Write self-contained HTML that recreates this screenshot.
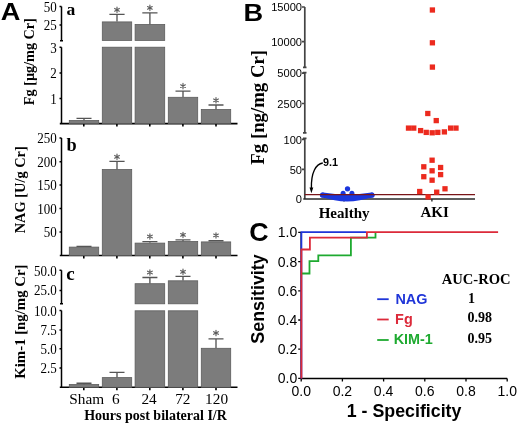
<!DOCTYPE html>
<html><head><meta charset="utf-8"><style>
html,body{margin:0;padding:0;background:#fff;width:520px;height:426px;overflow:hidden}
svg{display:block;will-change:transform}
</style></head><body>
<svg width="520" height="426" viewBox="0 0 520 426">
<rect width="520" height="426" fill="#fff"/>
<text transform="translate(0.8,19.6) scale(1.12,1)" font-family='"Liberation Sans", sans-serif' font-size="24.3" font-weight="bold" text-anchor="start" fill="#000">A</text>
<path d="M61.5 6.6V40.8M61.5 47.3V123.6M59.5 6.6H61.5M59.5 25H61.5M59.5 47.3H61.5M59.5 72.9H61.5M59.5 98.4H61.5M60 40.8H63" stroke="#000" stroke-width="1.5" fill="none"/>
<path d="M59.8 123.6H237.5M83.8 123.6V126.5M116.9 123.6V126.5M149.8 123.6V126.5M182.9 123.6V126.5M216 123.6V126.5" stroke="#000" stroke-width="1.6" fill="none"/>
<text transform="translate(56.8,7.199999999999999) scale(0.93,1)" font-family='"Liberation Serif", serif' font-size="14" text-anchor="end" dominant-baseline="central">50</text>
<text transform="translate(56.8,25.6) scale(0.93,1)" font-family='"Liberation Serif", serif' font-size="14" text-anchor="end" dominant-baseline="central">25</text>
<text transform="translate(56.8,47.9) scale(0.93,1)" font-family='"Liberation Serif", serif' font-size="14" text-anchor="end" dominant-baseline="central">3</text>
<text transform="translate(56.8,73.5) scale(0.93,1)" font-family='"Liberation Serif", serif' font-size="14" text-anchor="end" dominant-baseline="central">2</text>
<text transform="translate(56.8,99.0) scale(0.93,1)" font-family='"Liberation Serif", serif' font-size="14" text-anchor="end" dominant-baseline="central">1</text>
<text x="66.6" y="14.5" font-family='"Liberation Serif", serif' font-size="17.6" font-weight="bold" text-anchor="start" fill="#000" >a</text>
<text transform="translate(33.6,61.65) rotate(-90)" font-family='"Liberation Serif", serif' font-size="14.2" font-weight="bold" text-anchor="middle">Fg [µg/mg Cr]</text>
<rect x="69.30" y="120.50" width="29.40" height="3.10" fill="#7c7c7c" stroke="#5c5c5c" stroke-width="0.8"/>
<path d="M84 120.2V118.3M76.5 118.3H91.5" stroke="#555" stroke-width="1.35" fill="none"/>
<rect x="102.30" y="21.90" width="29.40" height="18.50" fill="#7c7c7c" stroke="#5c5c5c" stroke-width="0.8"/>
<rect x="102.30" y="47.20" width="29.40" height="76.40" fill="#7c7c7c" stroke="#5c5c5c" stroke-width="0.8"/>
<rect x="135.10" y="24.50" width="29.60" height="15.90" fill="#7c7c7c" stroke="#5c5c5c" stroke-width="0.8"/>
<rect x="135.10" y="47.20" width="29.60" height="76.40" fill="#7c7c7c" stroke="#5c5c5c" stroke-width="0.8"/>
<path d="M117 21.6V14.4M109.4 14.4H124.6" stroke="#555" stroke-width="1.35" fill="none"/>
<path d="M117 7.1000000000000005V12.5M114.66 8.45L119.34 11.15M114.66 11.15L119.34 8.45" stroke="#5e5e5e" stroke-width="1.15" stroke-linecap="round" fill="none"/>
<path d="M149.9 24.2V12.9M142.3 12.9H157.5" stroke="#555" stroke-width="1.35" fill="none"/>
<path d="M149.9 5.1499999999999995V10.55M147.56 6.50L152.24 9.20M147.56 9.20L152.24 6.50" stroke="#5e5e5e" stroke-width="1.15" stroke-linecap="round" fill="none"/>
<rect x="168.30" y="97.30" width="29.40" height="26.30" fill="#7c7c7c" stroke="#5c5c5c" stroke-width="0.8"/>
<path d="M183 97V91.1M175.5 91.1H190.5" stroke="#555" stroke-width="1.35" fill="none"/>
<path d="M183 83.39999999999999V88.8M180.66 84.75L185.34 87.45M180.66 87.45L185.34 84.75" stroke="#5e5e5e" stroke-width="1.15" stroke-linecap="round" fill="none"/>
<rect x="201.30" y="109.50" width="29.40" height="14.10" fill="#7c7c7c" stroke="#5c5c5c" stroke-width="0.8"/>
<path d="M216 109.2V105M208.5 105H223.5" stroke="#555" stroke-width="1.35" fill="none"/>
<path d="M216 97.6V103.0M213.66 98.95L218.34 101.65M213.66 101.65L218.34 98.95" stroke="#5e5e5e" stroke-width="1.15" stroke-linecap="round" fill="none"/>
<path d="M61.5 138V255.5M59.5 138H61.5M59.5 161.8H61.5M59.5 184.9H61.5M59.5 208.6H61.5M59.5 232.1H61.5" stroke="#000" stroke-width="1.5" fill="none"/>
<path d="M59.8 255.5H237.5M83.8 255.5V258.5M116.9 255.5V258.5M149.8 255.5V258.5M182.9 255.5V258.5M216 255.5V258.5" stroke="#000" stroke-width="1.6" fill="none"/>
<text transform="translate(56.8,138.6) scale(0.93,1)" font-family='"Liberation Serif", serif' font-size="14" text-anchor="end" dominant-baseline="central">250</text>
<text transform="translate(56.8,162.4) scale(0.93,1)" font-family='"Liberation Serif", serif' font-size="14" text-anchor="end" dominant-baseline="central">200</text>
<text transform="translate(56.8,185.5) scale(0.93,1)" font-family='"Liberation Serif", serif' font-size="14" text-anchor="end" dominant-baseline="central">150</text>
<text transform="translate(56.8,209.2) scale(0.93,1)" font-family='"Liberation Serif", serif' font-size="14" text-anchor="end" dominant-baseline="central">100</text>
<text transform="translate(56.8,232.7) scale(0.93,1)" font-family='"Liberation Serif", serif' font-size="14" text-anchor="end" dominant-baseline="central">50</text>
<text x="66.5" y="151.4" font-family='"Liberation Serif", serif' font-size="18.3" font-weight="bold" text-anchor="start" fill="#000" >b</text>
<text transform="translate(25.3,189.8) rotate(-90)" font-family='"Liberation Serif", serif' font-size="14.4" font-weight="bold" text-anchor="middle">NAG [U/g Cr]</text>
<rect x="69.30" y="247.10" width="29.40" height="8.40" fill="#7c7c7c" stroke="#5c5c5c" stroke-width="0.8"/>
<path d="M84 246.8V246.3M76.5 246.3H91.5" stroke="#555" stroke-width="1.35" fill="none"/>
<rect x="102.30" y="169.50" width="29.40" height="86.00" fill="#7c7c7c" stroke="#5c5c5c" stroke-width="0.8"/>
<path d="M117 169.2V161.3M109.4 161.3H124.6" stroke="#555" stroke-width="1.35" fill="none"/>
<path d="M117 154.10000000000002V159.5M114.66 155.45L119.34 158.15M114.66 158.15L119.34 155.45" stroke="#5e5e5e" stroke-width="1.15" stroke-linecap="round" fill="none"/>
<rect x="135.10" y="243.10" width="29.60" height="12.40" fill="#7c7c7c" stroke="#5c5c5c" stroke-width="0.8"/>
<path d="M149.9 242.8V241.6M142.4 241.6H157.4" stroke="#555" stroke-width="1.35" fill="none"/>
<path d="M149.9 233.8V239.2M147.56 235.15L152.24 237.85M147.56 237.85L152.24 235.15" stroke="#5e5e5e" stroke-width="1.15" stroke-linecap="round" fill="none"/>
<rect x="168.30" y="241.50" width="29.40" height="14.00" fill="#7c7c7c" stroke="#5c5c5c" stroke-width="0.8"/>
<path d="M183 241.2V239.8M175.5 239.8H190.5" stroke="#555" stroke-width="1.35" fill="none"/>
<path d="M183 232.20000000000002V237.6M180.66 233.55L185.34 236.25M180.66 236.25L185.34 233.55" stroke="#5e5e5e" stroke-width="1.15" stroke-linecap="round" fill="none"/>
<rect x="201.30" y="241.90" width="29.40" height="13.60" fill="#7c7c7c" stroke="#5c5c5c" stroke-width="0.8"/>
<path d="M216 241.6V240.7M208.5 240.7H223.5" stroke="#555" stroke-width="1.35" fill="none"/>
<path d="M216 232.70000000000002V238.1M213.66 234.05L218.34 236.75M213.66 236.75L218.34 234.05" stroke="#5e5e5e" stroke-width="1.15" stroke-linecap="round" fill="none"/>
<path d="M61.5 270.2V303.8M61.5 310.5V387.3M59.5 270.2H61.5M59.5 290.6H61.5M60 303.8H63M59.5 310.5H61.5M59.5 330H61.5M59.5 348.8H61.5M59.5 368H61.5" stroke="#000" stroke-width="1.5" fill="none"/>
<path d="M59.8 387.3H237.5M83.8 387.3V390.3M116.9 387.3V390.3M149.8 387.3V390.3M182.9 387.3V390.3M216 387.3V390.3" stroke="#000" stroke-width="1.6" fill="none"/>
<text transform="translate(56.8,271.0) scale(0.93,1)" font-family='"Liberation Serif", serif' font-size="14" text-anchor="end" dominant-baseline="central">50.0</text>
<text transform="translate(56.8,290.8) scale(0.93,1)" font-family='"Liberation Serif", serif' font-size="14" text-anchor="end" dominant-baseline="central">25.0</text>
<text transform="translate(56.8,311.1) scale(0.93,1)" font-family='"Liberation Serif", serif' font-size="14" text-anchor="end" dominant-baseline="central">10.0</text>
<text transform="translate(56.8,330.6) scale(0.93,1)" font-family='"Liberation Serif", serif' font-size="14" text-anchor="end" dominant-baseline="central">7.5</text>
<text transform="translate(56.8,349.40000000000003) scale(0.93,1)" font-family='"Liberation Serif", serif' font-size="14" text-anchor="end" dominant-baseline="central">5.0</text>
<text transform="translate(56.8,368.6) scale(0.93,1)" font-family='"Liberation Serif", serif' font-size="14" text-anchor="end" dominant-baseline="central">2.5</text>
<text x="66.2" y="279.6" font-family='"Liberation Serif", serif' font-size="19" font-weight="bold" text-anchor="start" fill="#000" >c</text>
<text transform="translate(24.8,321.65) rotate(-90)" font-family='"Liberation Serif", serif' font-size="14.8" font-weight="bold" text-anchor="middle">Kim-1 [ng/mg Cr]</text>
<rect x="69.30" y="384.50" width="29.40" height="2.80" fill="#7c7c7c" stroke="#5c5c5c" stroke-width="0.8"/>
<path d="M84 384.2V383.2M76.5 383.2H91.5" stroke="#555" stroke-width="1.35" fill="none"/>
<rect x="102.30" y="377.60" width="29.40" height="9.70" fill="#7c7c7c" stroke="#5c5c5c" stroke-width="0.8"/>
<path d="M117 377.3V372.3M109.5 372.3H124.5" stroke="#555" stroke-width="1.35" fill="none"/>
<rect x="135.10" y="283.70" width="29.60" height="20.10" fill="#7c7c7c" stroke="#5c5c5c" stroke-width="0.8"/>
<rect x="135.10" y="310.80" width="29.60" height="76.50" fill="#7c7c7c" stroke="#5c5c5c" stroke-width="0.8"/>
<path d="M149.9 283.4V277.5M142.4 277.5H157.4" stroke="#555" stroke-width="1.35" fill="none"/>
<path d="M149.9 269.8V275.2M147.56 271.15L152.24 273.85M147.56 273.85L152.24 271.15" stroke="#5e5e5e" stroke-width="1.15" stroke-linecap="round" fill="none"/>
<rect x="168.30" y="280.80" width="29.40" height="23.00" fill="#7c7c7c" stroke="#5c5c5c" stroke-width="0.8"/>
<rect x="168.30" y="310.80" width="29.40" height="76.50" fill="#7c7c7c" stroke="#5c5c5c" stroke-width="0.8"/>
<path d="M183.0 280.5V276.4M175.5 276.4H190.5" stroke="#555" stroke-width="1.35" fill="none"/>
<path d="M183.0 269.1V274.5M180.66 270.45L185.34 273.15M180.66 273.15L185.34 270.45" stroke="#5e5e5e" stroke-width="1.15" stroke-linecap="round" fill="none"/>
<rect x="201.30" y="348.30" width="29.40" height="39.00" fill="#7c7c7c" stroke="#5c5c5c" stroke-width="0.8"/>
<path d="M216 348V338.8M208.5 338.8H223.5" stroke="#555" stroke-width="1.35" fill="none"/>
<path d="M216 330.3V335.7M213.66 331.65L218.34 334.35M213.66 334.35L218.34 331.65" stroke="#5e5e5e" stroke-width="1.15" stroke-linecap="round" fill="none"/>
<text x="86.7" y="403.8" font-family='"Liberation Serif", serif' font-size="15.3" font-weight="normal" text-anchor="middle" fill="#000" >Sham</text>
<text x="115.9" y="403.8" font-family='"Liberation Serif", serif' font-size="15.3" font-weight="normal" text-anchor="middle" fill="#000" >6</text>
<text x="149.1" y="403.8" font-family='"Liberation Serif", serif' font-size="15.3" font-weight="normal" text-anchor="middle" fill="#000" >24</text>
<text x="182.8" y="403.8" font-family='"Liberation Serif", serif' font-size="15.3" font-weight="normal" text-anchor="middle" fill="#000" >72</text>
<text x="216.6" y="403.8" font-family='"Liberation Serif", serif' font-size="15.3" font-weight="normal" text-anchor="middle" fill="#000" >120</text>
<text x="155.5" y="419.8" font-family='"Liberation Serif", serif' font-size="14" font-weight="bold" text-anchor="middle" fill="#000" >Hours post bilateral I/R</text>
<text transform="translate(243.6,21.4) scale(1.12,1)" font-family='"Liberation Sans", sans-serif' font-size="24.3" font-weight="bold" text-anchor="start" fill="#000">B</text>
<path d="M304.8 7V67.3M304.8 72.6V132.8M304.8 138.4V199M302 7H304.8M302 41.7H304.8M302 73.2H304.8M302 103.5H304.8M302 139.4H304.8M302 169.4H304.8M303 67.3H306.5M303 72.6H306.5M303 132.8H306.5M303 138.4H306.5" stroke="#444" stroke-width="1.7" fill="none"/>
<text x="302" y="7.2" font-family='"Liberation Sans", sans-serif' font-size="11.1" text-anchor="end" dominant-baseline="central">15000</text>
<text x="302" y="41.900000000000006" font-family='"Liberation Sans", sans-serif' font-size="11.1" text-anchor="end" dominant-baseline="central">10000</text>
<text x="302" y="73.4" font-family='"Liberation Sans", sans-serif' font-size="11.1" text-anchor="end" dominant-baseline="central">5000</text>
<text x="302" y="103.7" font-family='"Liberation Sans", sans-serif' font-size="11.1" text-anchor="end" dominant-baseline="central">2500</text>
<text x="302" y="139.6" font-family='"Liberation Sans", sans-serif' font-size="11.1" text-anchor="end" dominant-baseline="central">100</text>
<text x="302" y="169.6" font-family='"Liberation Sans", sans-serif' font-size="11.1" text-anchor="end" dominant-baseline="central">50</text>
<text x="302" y="199.2" font-family='"Liberation Sans", sans-serif' font-size="11.1" text-anchor="end" dominant-baseline="central">0</text>
<text transform="translate(263.8,107.3) rotate(-90)" font-family='"Liberation Serif", serif' font-size="18.8" font-weight="bold" text-anchor="middle">Fg [ng/mg Cr]</text>
<path d="M303.3 199H475M344 199V201.5M431.9 199V201.5" stroke="#2a2a2a" stroke-width="1.4" fill="none"/>
<text x="344.1" y="217.5" font-family='"Liberation Serif", serif' font-size="15" font-weight="bold" text-anchor="middle" fill="#000" >Healthy</text>
<text x="434.6" y="216.5" font-family='"Liberation Serif", serif' font-size="15" font-weight="bold" text-anchor="middle" fill="#000" >AKI</text>
<path d="M322.8 163C316 164 311 172 311.4 188.5" stroke="#000" stroke-width="1.35" fill="none"/>
<path d="M309.5 187.6L311.4 193.3L313.3 187.6Z" fill="#000"/>
<text transform="translate(323.1,165.9) scale(1.05,1)" font-family='"Liberation Sans", sans-serif' font-size="10.3" font-weight="bold" text-anchor="start" fill="#000">9.1</text>
<path d="M322.6 195.2Q347 199 371.9 195.2" stroke="#1b36dd" stroke-width="5.4" stroke-linecap="round" fill="none"/>
<path d="M322 196.5Q347 206.5 372.5 196.5Z" fill="#1b36dd"/>
<circle cx="347.5" cy="188.8" r="2.65" fill="#1b36dd"/>
<circle cx="343.1" cy="193.25" r="2.5" fill="#1b36dd"/>
<circle cx="351.9" cy="193.25" r="2.5" fill="#1b36dd"/>
<circle cx="322.75" cy="194.9" r="2.5" fill="#1b36dd"/>
<circle cx="371.9" cy="194.9" r="2.5" fill="#1b36dd"/>
<path d="M304.8 194.6H475" stroke="#7a1418" stroke-width="1.4" fill="none"/>
<rect x="429.75" y="7.35" width="5.3" height="5.3" fill="#ec2a1e"/>
<rect x="429.75" y="40.15" width="5.3" height="5.3" fill="#ec2a1e"/>
<rect x="429.75" y="64.45" width="5.3" height="5.3" fill="#ec2a1e"/>
<rect x="425.15" y="110.85" width="5.3" height="5.3" fill="#ec2a1e"/>
<rect x="433.60" y="117.95" width="5.3" height="5.3" fill="#ec2a1e"/>
<rect x="405.85" y="125.45" width="5.3" height="5.3" fill="#ec2a1e"/>
<rect x="411.10" y="125.45" width="5.3" height="5.3" fill="#ec2a1e"/>
<rect x="417.95" y="127.95" width="5.3" height="5.3" fill="#ec2a1e"/>
<rect x="423.60" y="129.75" width="5.3" height="5.3" fill="#ec2a1e"/>
<rect x="429.55" y="130.15" width="5.3" height="5.3" fill="#ec2a1e"/>
<rect x="435.15" y="129.75" width="5.3" height="5.3" fill="#ec2a1e"/>
<rect x="441.75" y="129.25" width="5.3" height="5.3" fill="#ec2a1e"/>
<rect x="447.95" y="125.45" width="5.3" height="5.3" fill="#ec2a1e"/>
<rect x="453.35" y="125.45" width="5.3" height="5.3" fill="#ec2a1e"/>
<rect x="429.45" y="157.55" width="5.3" height="5.3" fill="#ec2a1e"/>
<rect x="421.15" y="164.15" width="5.3" height="5.3" fill="#ec2a1e"/>
<rect x="437.95" y="164.85" width="5.3" height="5.3" fill="#ec2a1e"/>
<rect x="429.45" y="168.15" width="5.3" height="5.3" fill="#ec2a1e"/>
<rect x="421.15" y="174.05" width="5.3" height="5.3" fill="#ec2a1e"/>
<rect x="437.95" y="171.95" width="5.3" height="5.3" fill="#ec2a1e"/>
<rect x="429.45" y="177.55" width="5.3" height="5.3" fill="#ec2a1e"/>
<rect x="417.05" y="188.85" width="5.3" height="5.3" fill="#ec2a1e"/>
<rect x="434.05" y="189.55" width="5.3" height="5.3" fill="#ec2a1e"/>
<rect x="442.35" y="186.15" width="5.3" height="5.3" fill="#ec2a1e"/>
<rect x="425.45" y="194.25" width="5.3" height="5.3" fill="#ec2a1e"/>
<text transform="translate(249.3,240.8) scale(1.05,1)" font-family='"Liberation Sans", sans-serif' font-size="25.5" font-weight="bold" text-anchor="start" fill="#000">C</text>
<path d="M301.2 232.4V378.4H507.2" stroke="#000" stroke-width="1.5" fill="none"/>
<path d="M298.2 378.4H301.2M298.2 349.2H301.2M298.2 320.0H301.2M298.2 290.8H301.2M298.2 261.6H301.2M298.2 232.4H301.2M301.2 378.4V381.4M342.4 378.4V381.4M383.6 378.4V381.4M424.79999999999995 378.4V381.4M466.0 378.4V381.4M507.2 378.4V381.4" stroke="#000" stroke-width="1.3" fill="none"/>
<text x="297.2" y="378.4" font-family='"Liberation Sans", sans-serif' font-size="14" text-anchor="end" dominant-baseline="central">0.0</text>
<text x="301.2" y="395.8" font-family='"Liberation Sans", sans-serif' font-size="14" font-weight="normal" text-anchor="middle" fill="#000" >0.0</text>
<text x="297.2" y="349.2" font-family='"Liberation Sans", sans-serif' font-size="14" text-anchor="end" dominant-baseline="central">0.2</text>
<text x="342.4" y="395.8" font-family='"Liberation Sans", sans-serif' font-size="14" font-weight="normal" text-anchor="middle" fill="#000" >0.2</text>
<text x="297.2" y="320.0" font-family='"Liberation Sans", sans-serif' font-size="14" text-anchor="end" dominant-baseline="central">0.4</text>
<text x="383.6" y="395.8" font-family='"Liberation Sans", sans-serif' font-size="14" font-weight="normal" text-anchor="middle" fill="#000" >0.4</text>
<text x="297.2" y="290.8" font-family='"Liberation Sans", sans-serif' font-size="14" text-anchor="end" dominant-baseline="central">0.6</text>
<text x="424.79999999999995" y="395.8" font-family='"Liberation Sans", sans-serif' font-size="14" font-weight="normal" text-anchor="middle" fill="#000" >0.6</text>
<text x="297.2" y="261.6" font-family='"Liberation Sans", sans-serif' font-size="14" text-anchor="end" dominant-baseline="central">0.8</text>
<text x="466.0" y="395.8" font-family='"Liberation Sans", sans-serif' font-size="14" font-weight="normal" text-anchor="middle" fill="#000" >0.8</text>
<text x="297.2" y="232.4" font-family='"Liberation Sans", sans-serif' font-size="14" text-anchor="end" dominant-baseline="central">1.0</text>
<text x="507.2" y="395.8" font-family='"Liberation Sans", sans-serif' font-size="14" font-weight="normal" text-anchor="middle" fill="#000" >1.0</text>
<text x="404.1" y="417.2" font-family='"Liberation Sans", sans-serif' font-size="17.8" font-weight="bold" text-anchor="middle" fill="#000" >1 - Specificity</text>
<text transform="translate(264.4,299) rotate(-90)" font-family='"Liberation Sans", sans-serif' font-size="17.9" font-weight="bold" text-anchor="middle">Sensitivity</text>
<path d="M301.4 378.4V232.2H366" stroke="#1f35d8" stroke-width="1.8" fill="none"/>
<path d="M301.4 273.5H309.5V261.2H318.3V255.3H350.9V237.7H375.5V232.4" stroke="#1eaa30" stroke-width="1.8" fill="none"/>
<path d="M301.4 378.4V249.5H309.9V237.7H366.9V232.2H498.1" stroke="#dc2a3a" stroke-width="1.8" fill="none"/>
<path d="M377.2 299.2H388.7" stroke="#1f35d8" stroke-width="1.8"/>
<path d="M377.2 319.5H388.7" stroke="#dc2a3a" stroke-width="1.8"/>
<path d="M377.2 340H388.7" stroke="#1eaa30" stroke-width="1.8"/>
<text x="395.4" y="303.8" font-family='"Liberation Sans", sans-serif' font-size="14.4" font-weight="bold" text-anchor="start" fill="#1f35d8" >NAG</text>
<text x="395.1" y="323.7" font-family='"Liberation Sans", sans-serif' font-size="14.4" font-weight="bold" text-anchor="start" fill="#dc2a3a" >Fg</text>
<text x="393.7" y="344.4" font-family='"Liberation Sans", sans-serif' font-size="14.4" font-weight="bold" text-anchor="start" fill="#1eaa30" >KIM-1</text>
<text x="476.2" y="284.3" font-family='"Liberation Serif", serif' font-size="14.6" font-weight="bold" text-anchor="middle" fill="#000" >AUC-ROC</text>
<text x="468" y="303" font-family='"Liberation Serif", serif' font-size="14" font-weight="bold" text-anchor="start" fill="#000" >1</text>
<text x="467.6" y="322.2" font-family='"Liberation Serif", serif' font-size="14" font-weight="bold" text-anchor="start" fill="#000" >0.98</text>
<text x="467.6" y="342.9" font-family='"Liberation Serif", serif' font-size="14" font-weight="bold" text-anchor="start" fill="#000" >0.95</text>
</svg>
</body></html>
